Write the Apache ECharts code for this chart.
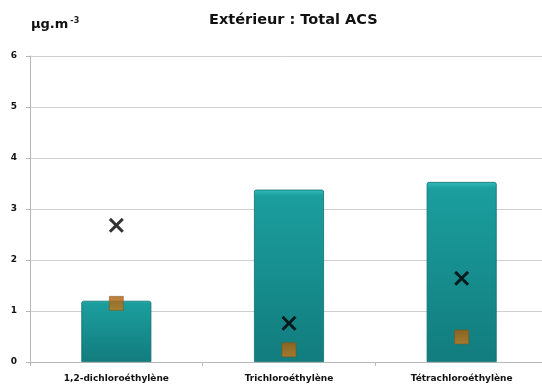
<!DOCTYPE html>
<html>
<head>
<meta charset="utf-8">
<script src="https://cdn.jsdelivr.net/npm/echarts@6/dist/echarts.min.js"></script>
<style>
  html, body { margin: 0; padding: 0; background: #fff; overflow: hidden; }
  #chart { width: 542px; height: 387px; }
</style>
</head>
<body>
<div id="chart"></div>
<script>
// Compounds measured outdoors
const categories = ['1,2-dichloroéthylène', 'Trichloroéthylène', 'Tétrachloroéthylène'];
// Total concentration (bars)
const totalValues = [1.2, 3.38, 3.53];
// Secondary markers (cross and square)
const crossValues = [2.68, 0.76, 1.64];
const squareValues = [1.15, 0.24, 0.49];
const yTicks = [0, 1, 2, 3, 4, 5, 6];

const crossPath = 'path://M0,1.4L1.4,0L5,3.6L8.6,0L10,1.4L6.4,5L10,8.6L8.6,10L5,6.4L1.4,10L0,8.6L3.6,5Z';

const chart = echarts.init(document.getElementById('chart'), null, { renderer: 'canvas' });
chart.setOption({
  backgroundColor: '#ffffff',
  animation: false,
  title: [
    {
      text: 'Extérieur : Total ACS',
      left: 204, top: 8,
      textStyle: { fontFamily: 'DejaVu Sans', fontWeight: 'bold', fontSize: 14.5, color: '#111' }
    },
    {
      text: '{u|µg.m}{s|-3}',
      left: 26, top: 12,
      textStyle: {
        rich: {
          u: { fontFamily: 'DejaVu Sans', fontWeight: 'bold', fontSize: 13, color: '#111' },
          s: { fontFamily: 'DejaVu Sans', fontSize: 8, color: '#222', verticalAlign: 'top', padding: [0, 0, 7, 2] }
        }
      }
    }
  ],
  // the plot runs a little past the right edge of the canvas
  grid: { left: 30, right: -6, top: 56, bottom: 25, containLabel: false, outerBoundsMode: 'none' },
  xAxis: {
    type: 'category',
    data: categories,
    axisLine: { show: true, lineStyle: { color: '#b8b8b8', width: 1 } },
    axisTick: { show: true, length: 4, lineStyle: { color: '#b8b8b8' } },
    axisLabel: { fontFamily: 'DejaVu Sans', fontWeight: 'bold', fontSize: 9, color: '#111', margin: 12 }
  },
  yAxis: {
    type: 'value',
    min: yTicks[0], max: yTicks[yTicks.length - 1], interval: 1,
    axisLine: { show: true, lineStyle: { color: '#b8b8b8', width: 1 } },
    axisTick: { show: true, length: 4, lineStyle: { color: '#b8b8b8' } },
    splitLine: { show: true, lineStyle: { color: '#cfcfcf', width: 1 } },
    axisLabel: { fontFamily: 'DejaVu Sans', fontWeight: 'bold', fontSize: 9, color: '#111', margin: 13 }
  },
  series: [
    {
      type: 'bar',
      data: totalValues,
      barWidth: 70,
      itemStyle: {
        color: new echarts.graphic.LinearGradient(0, 0, 0, 1, [
          { offset: 0, color: '#35bcbc' },
          { offset: 0.035, color: '#1b9e9e' },
          { offset: 1, color: '#127c7e' }
        ]),
        borderColor: '#0f6e70',
        borderWidth: 0.8,
        borderRadius: [2, 2, 0, 0]
      },
      z: 2
    },
    {
      type: 'scatter',
      data: crossValues,
      symbol: crossPath,
      symbolSize: 15,
      itemStyle: { color: '#000000' },
      z: 4
    },
    {
      type: 'scatter',
      data: squareValues,
      symbol: 'rect',
      symbolSize: 14,
      itemStyle: {
        color: new echarts.graphic.LinearGradient(0, 0, 0, 1, [
          { offset: 0, color: '#a45c0c' },
          { offset: 1, color: '#c9791a' }
        ]),
        borderColor: '#874c0f',
        borderWidth: 0.6
      },
      z: 5
    }
  ]
});
</script>
</body>
</html>
